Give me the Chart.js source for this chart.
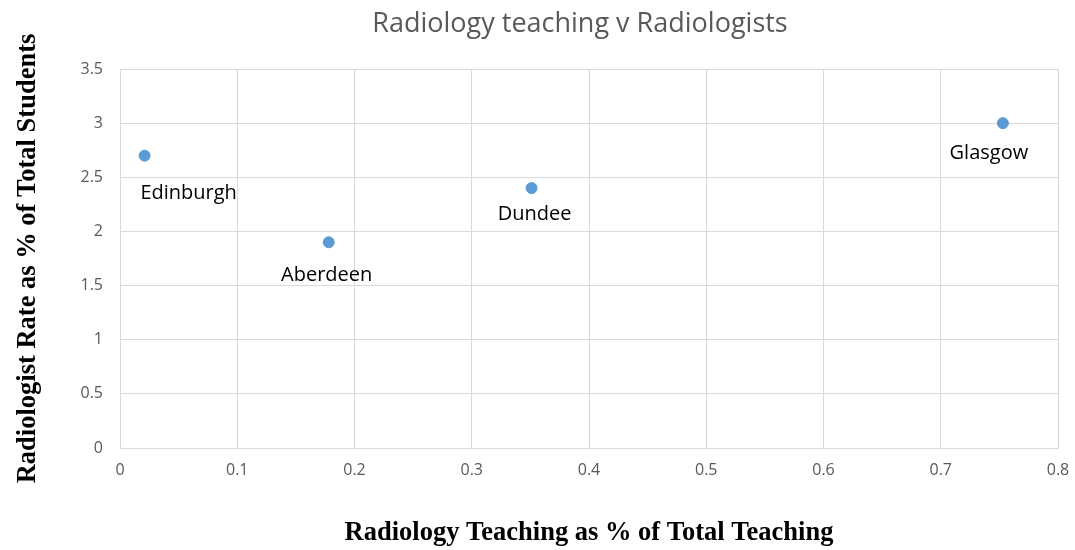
<!DOCTYPE html>
<html>
<head>
<meta charset="utf-8">
<script src="https://cdn.jsdelivr.net/npm/chart.js@4/dist/chart.umd.min.js"></script>
<style>
  html, body { margin: 0; padding: 0; background: #fff; }
  canvas { display: block; }
</style>
</head>
<body>
<canvas id="scatterChart" width="1075" height="550"></canvas>
<script>
// data
const cities = ["Edinburgh", "Aberdeen", "Dundee", "Glasgow"];
const teachingPct = [0.021, 0.178, 0.351, 0.753];
const radiologistRate = [2.7, 1.9, 2.4, 3.0];
const chartTitle = "Radiology teaching v Radiologists";

// label offsets (px) relative to each point
const labelOffsets = [[44, 38], [-2, 33], [3, 26], [-14, 30]];

// title centred over the plot area, and the city labels
const textLayer = {
    id: "textLayer",
    afterDatasetsDraw(chart) {
        const ctx = chart.ctx;
        const area = chart.chartArea;
        ctx.save();
        ctx.textAlign = "center";
        ctx.textBaseline = "middle";
        ctx.font = "27px 'Open Sans'";
        ctx.fillStyle = "#595959";
        ctx.fillText(chartTitle, (area.left + area.right) / 2 - 9, 24);

        ctx.font = "20px 'Open Sans'";
        ctx.fillStyle = "#000";
        const meta = chart.getDatasetMeta(0);
        meta.data.forEach((pt, i) => {
            ctx.fillText(cities[i], pt.x + labelOffsets[i][0], pt.y + labelOffsets[i][1]);
        });
        ctx.restore();
    }
};

const fmt = v => String(Number(v.toFixed(2)));

const ctx = document.getElementById("scatterChart").getContext("2d");
new Chart(ctx, {
    type: "scatter",
    data: {
        datasets: [{
            label: "Radiologists",
            data: teachingPct.map((x, i) => ({ x: x, y: radiologistRate[i] })),
            backgroundColor: "#5b9bd5",
            borderColor: "#5b9bd5",
            pointRadius: 5.5,
        }],
    },
    options: {
        responsive: false,
        animation: false,
        layout: { padding: { left: 0, right: 17, top: 69, bottom: 0 } },
        plugins: {
            legend: { display: false },
            tooltip: { enabled: false },
            title: { display: false },
        },
        scales: {
            x: {
                type: "linear",
                min: 0,
                max: 0.8,
                ticks: { stepSize: 0.1, color: "#595959", font: { family: "'Open Sans'", size: 16 }, padding: 13, callback: fmt },
                grid: { color: "#d9d9d9", drawTicks: false },
                border: { color: "#d9d9d9" },
                title: {
                    display: true,
                    text: "Radiology Teaching as % of Total Teaching",
                    color: "#000",
                    font: { family: "'Liberation Serif'", size: 26.5, weight: "bold" },
                    padding: { top: 0, bottom: 1 },
                },
                afterFit(scale) {
                    scale.height = 102;
                    scale.paddingRight = 0;
                    scale.paddingLeft = 0;
                },
            },
            y: {
                min: 0,
                max: 3.5,
                ticks: { stepSize: 0.5, color: "#595959", font: { family: "'Open Sans'", size: 16 }, padding: 17, callback: fmt },
                grid: { color: "#d9d9d9", drawTicks: false },
                border: { color: "#d9d9d9" },
                title: {
                    display: true,
                    text: "Radiologist Rate as % of Total Students",
                    color: "#000",
                    font: { family: "'Liberation Serif'", size: 26.5, weight: "bold" },
                    padding: { top: 12, bottom: 0 },
                },
                afterFit(scale) {
                    scale.width = 120;
                    scale.paddingTop = 0;
                    scale.paddingBottom = 0;
                },
            },
        },
    },
    plugins: [textLayer],
});
</script>
</body>
</html>
